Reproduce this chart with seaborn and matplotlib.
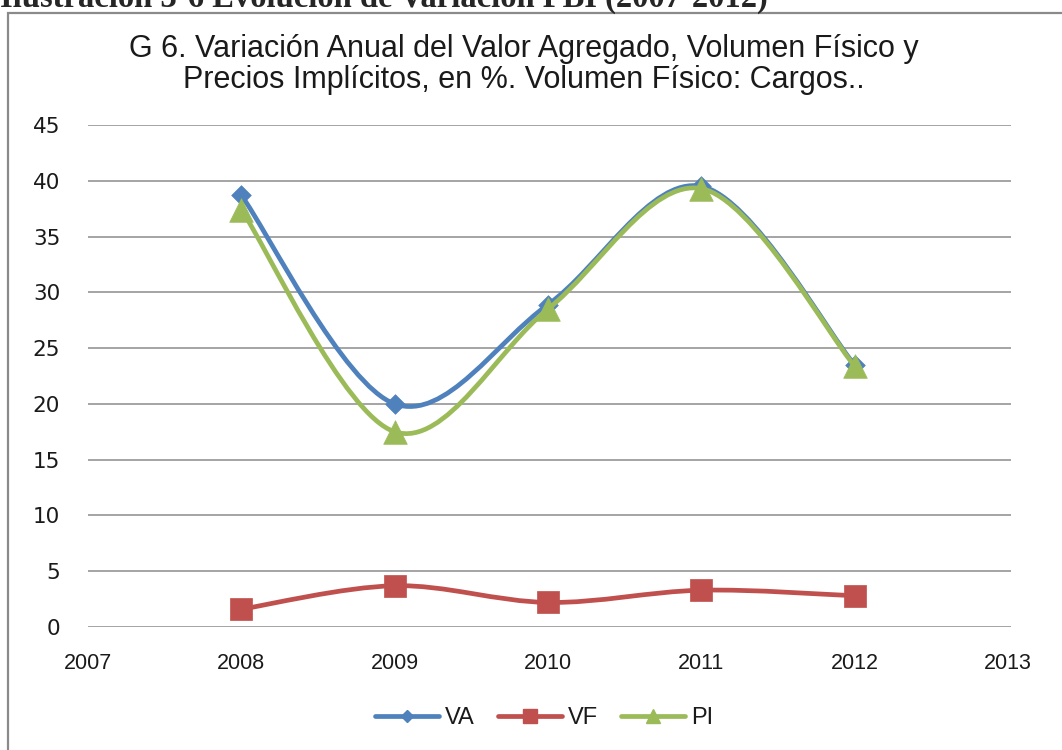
import numpy as np
import pandas as pd
import seaborn as sns
import matplotlib.pyplot as plt
from matplotlib.path import Path
from matplotlib.patches import PathPatch, Rectangle
from matplotlib.lines import Line2D

# data (% annual variation)
years = [2008, 2009, 2010, 2011, 2012]
va = [38.7, 20.0, 28.9, 39.5, 23.5]
vf = [1.6, 3.7, 2.2, 3.3, 2.8]
pi = [37.4, 17.5, 28.5, 39.3, 23.4]
series_names = ['VA', 'VF', 'PI']
x_ticks = [2007, 2008, 2009, 2010, 2011, 2012, 2013]
y_ticks = [0, 5, 10, 15, 20, 25, 30, 35, 40, 45]

title_lines = ['G 6. Variación Anual del Valor Agregado, Volumen Físico y',
               'Precios Implícitos, en %. Volumen Físico: Cargos..']
caption = 'Ilustración 3-6 Evolución de Variación PBI (2007-2012)'

colors = {'VA': '#4F81BD', 'VF': '#C0504D', 'PI': '#9BBB59'}
markers = {'VA': 'D', 'VF': 's', 'PI': '^'}
msizes = {'VA': 10, 'VF': 16, 'PI': 17}


def smooth_path(xs, ys):
    # Catmull-Rom style bezier, like Excel's "smoothed line"
    pts = np.column_stack([xs, ys]).astype(float)
    n = len(pts)
    verts = [pts[0]]
    codes = [Path.MOVETO]
    for i in range(n - 1):
        p0 = pts[max(i - 1, 0)]
        p1 = pts[i]
        p2 = pts[i + 1]
        p3 = pts[min(i + 2, n - 1)]
        verts += [p1 + (p2 - p0) / 6, p2 - (p3 - p1) / 6, p2]
        codes += [Path.CURVE4] * 3
    return Path(verts, codes)


df = pd.DataFrame({'Año': years, 'VA': va, 'VF': vf, 'PI': pi})
long_df = df.melt(id_vars='Año', var_name='Serie', value_name='Valor')

sns.set_theme(style='white')
plt.rcParams['font.family'] = ['Liberation Sans', 'DejaVu Sans']

fig = plt.figure(figsize=(10.62, 7.5), dpi=100)
W, H = 1062, 750
ax = fig.add_axes([88 / W, 1 - 627 / H, (1011 - 88) / W, (627 - 125) / H])

for k, name in enumerate(series_names):
    sub = long_df[long_df['Serie'] == name]
    ax.add_patch(PathPatch(smooth_path(sub['Año'], sub['Valor']), facecolor='none',
                           edgecolor=colors[name], lw=3.4, capstyle='round',
                           joinstyle='round', zorder=3 + 2 * k))
    sns.scatterplot(data=sub, x='Año', y='Valor', marker=markers[name],
                    s=msizes[name] ** 2, color=colors[name], edgecolor=colors[name],
                    linewidth=0.5, ax=ax, zorder=4 + 2 * k, legend=False)

ax.set_xlim(2007, 2013.02)
ax.set_ylim(0, 45)
ax.set_xticks(x_ticks)
ax.set_yticks(y_ticks)
ax.set_xlabel('')
ax.set_ylabel('')
ax.yaxis.grid(True, color='#8c8c8c', lw=1.1)
ax.xaxis.grid(False)
for s in ax.spines.values():
    s.set_visible(False)
ax.tick_params(axis='x', length=0, pad=19, labelsize=15.5, labelcolor='#1a1a1a')
ax.tick_params(axis='y', length=0, pad=20, labelsize=15.5, labelcolor='#1a1a1a')
for lab in ax.get_yticklabels():
    lab.set_family(['DejaVu Sans'])

# chart title, two centred lines
for base_y, line in zip([57, 88], title_lines):
    fig.text(524 / W, 1 - base_y / H, line, ha='center', va='baseline', fontsize=22,
             color='#1a1a1a')

handles = [Line2D([], [], color=colors[n], lw=3.4, marker=markers[n],
                  markersize=msizes[n] * 0.62, markeredgecolor=colors[n])
           for n in series_names]
leg = fig.legend(handles, series_names, loc='center', bbox_to_anchor=(544 / W, 1 - 718 / H),
                 ncol=3, frameon=False, handlelength=2.7, handletextpad=0.25,
                 columnspacing=1.0, fontsize=17)
for t in leg.get_texts():
    t.set_color('#1a1a1a')

# outer chart frame, cut by the page edge on right and bottom
fig.patches.append(Rectangle((8 / W, -0.1), 1.2, 1 - 12.7 / H + 0.1, transform=fig.transFigure,
                             facecolor='none', edgecolor='#8a8a8a', lw=1.6))

# page caption above the chart, mostly cut off as in the source page
fig.text(0, 1 - 7 / H, caption, ha='left', va='baseline', fontsize=23.5,
         fontweight='bold', family=['Liberation Serif', 'DejaVu Serif'])

fig.savefig('out.png', dpi=100)
